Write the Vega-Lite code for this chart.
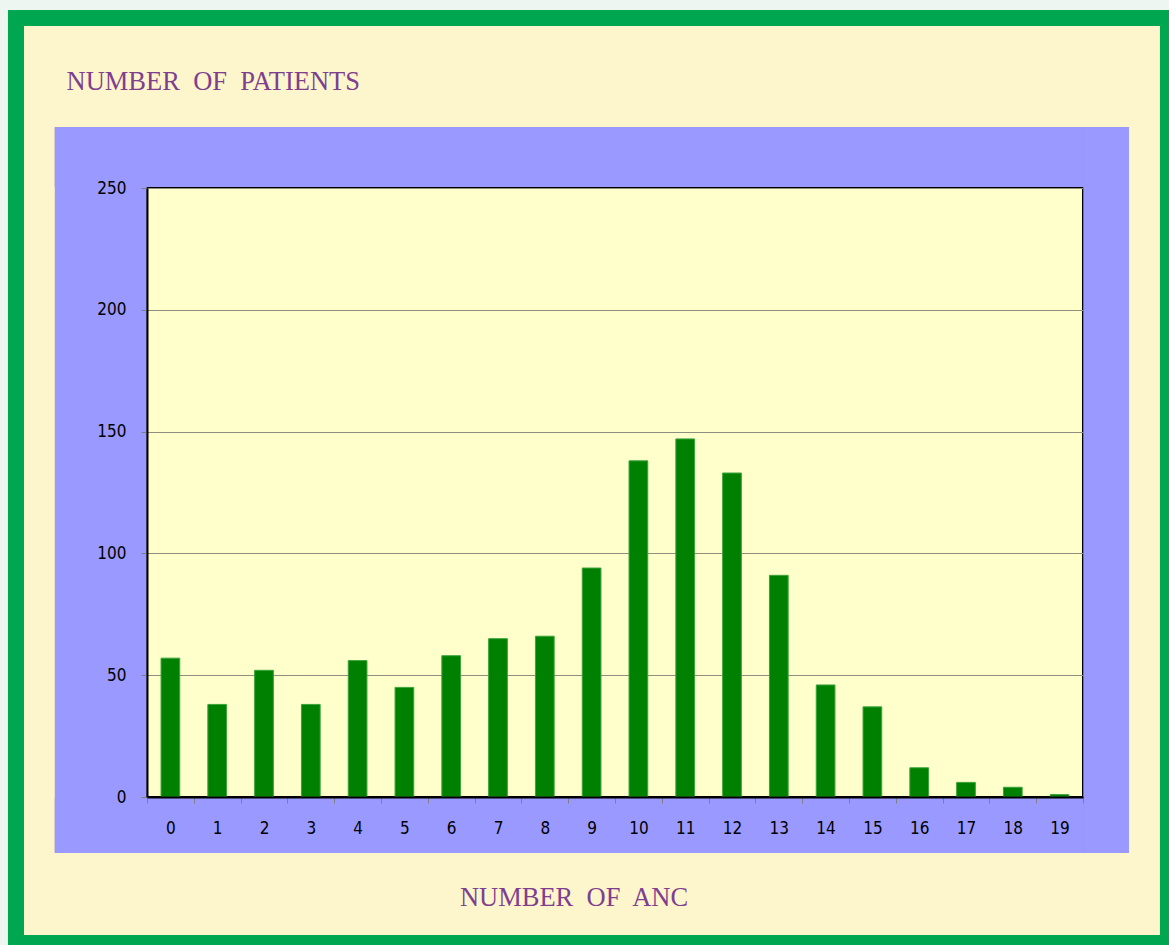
{
  "$schema": "https://vega.github.io/schema/vega-lite/v6.json",
  "width": 936,
  "height": 609,
  "autosize": {"type": "none"},
  "padding": {"left": 147, "top": 188, "right": 86, "bottom": 148},
  "background": "#fdf5cc",
  "config": {
    "view": {"fill": "#ffffcc", "stroke": "#000000", "strokeWidth": 2},
    "axis": {"labelFont": "DejaVu Sans Condensed", "labelFontSize": 17, "labelColor": "#000000"}
  },
  "data": {
    "values": [
      {"anc": 0, "patients": 57},
      {"anc": 1, "patients": 38},
      {"anc": 2, "patients": 52},
      {"anc": 3, "patients": 38},
      {"anc": 4, "patients": 56},
      {"anc": 5, "patients": 45},
      {"anc": 6, "patients": 58},
      {"anc": 7, "patients": 65},
      {"anc": 8, "patients": 66},
      {"anc": 9, "patients": 94},
      {"anc": 10, "patients": 138},
      {"anc": 11, "patients": 147},
      {"anc": 12, "patients": 133},
      {"anc": 13, "patients": 91},
      {"anc": 14, "patients": 46},
      {"anc": 15, "patients": 37},
      {"anc": 16, "patients": 12},
      {"anc": 17, "patients": 6},
      {"anc": 18, "patients": 4},
      {"anc": 19, "patients": 1}
    ]
  },
  "layer": [
    {
      "layer": [
        {
          "mark": {"type": "rect", "fill": null, "stroke": "#eef6f1", "strokeWidth": 20},
          "encoding": {
            "x": {"datum": -0.1592, "type": "quantitative", "scale": {"domain": [0, 1], "nice": false, "zero": false}, "axis": null},
            "x2": {"datum": 1.125},
            "y": {"datum": 327.18, "type": "quantitative", "scale": {"domain": [0, 250], "nice": false}, "axis": {"grid": true, "gridColor": "#8f8f80", "gridWidth": 1, "labels": false, "ticks": false, "domain": false, "title": null, "orient": "left", "zindex": 0, "tickCount": 5}},
            "y2": {"datum": -83.3}
          }
        },
        {
          "mark": {"type": "rect", "fill": null, "stroke": "#00a650", "strokeWidth": 16},
          "encoding": {
            "x": {"datum": -0.13996, "type": "quantitative"},
            "x2": {"datum": 1.09081},
            "y": {"datum": 319.79, "type": "quantitative"},
            "y2": {"datum": -59.93}
          }
        },
        {
          "mark": {"type": "rect", "fill": "#9999ff"},
          "encoding": {
            "x": {"datum": -0.0983, "type": "quantitative"},
            "x2": {"datum": 1.0491},
            "y": {"datum": 275.04, "type": "quantitative"},
            "y2": {"datum": 250.4}
          }
        },
        {
          "mark": {"type": "rect", "fill": "#9999ff"},
          "encoding": {
            "x": {"datum": -0.0983, "type": "quantitative"},
            "x2": {"datum": 1.0491},
            "y": {"datum": -0.4, "type": "quantitative"},
            "y2": {"datum": -22.99}
          }
        },
        {
          "mark": {"type": "rect", "fill": "#9999ff"},
          "encoding": {
            "x": {"datum": -0.0983, "type": "quantitative"},
            "x2": {"datum": -0.001},
            "y": {"datum": -22.99, "type": "quantitative"},
            "y2": {"datum": 275.04}
          }
        },
        {
          "mark": {"type": "rect", "fill": "#9999ff"},
          "encoding": {
            "x": {"datum": 1.001, "type": "quantitative"},
            "x2": {"datum": 1.0491},
            "y": {"datum": -22.99, "type": "quantitative"},
            "y2": {"datum": 275.04}
          }
        }
      ]
    },
    {
      "mark": {"type": "bar", "fill": "#008000", "stroke": "#3da33d", "strokeWidth": 1, "width": {"band": 0.4}},
      "encoding": {
        "x": {
          "field": "anc",
          "type": "ordinal",
          "scale": {"paddingInner": 0, "paddingOuter": 0},
          "axis": {
            "orient": "bottom",
            "zindex": 1,
            "labelAngle": 0,
            "labelPadding": 17,
            "tickBand": "extent",
            "tickColor": "#808080",
            "tickSize": 6,
            "domainColor": "#000000",
            "domainWidth": 2,
            "title": "NUMBER\u00a0 OF\u00a0 ANC",
            "titleFont": "Liberation Serif",
            "titleFontSize": 26.5,
            "titleFontWeight": "normal",
            "titleColor": "#7f3f8f",
            "titleX": 426.5,
            "titleY": 108,
            "titleAlign": "center",
            "titleBaseline": "alphabetic"
          }
        },
        "y": {
          "field": "patients",
          "type": "quantitative",
          "scale": {"domain": [0, 250], "nice": false},
          "axis": {
            "orient": "left",
            "zindex": 1,
            "grid": false,
            "tickCount": 5,
            "tickColor": "#808080",
            "tickSize": 6,
            "labelPadding": 15,
            "domainColor": "#000000",
            "domainWidth": 2,
            "title": "NUMBER\u00a0 OF\u00a0 PATIENTS",
            "titleFont": "Liberation Serif",
            "titleFontSize": 26.5,
            "titleFontWeight": "normal",
            "titleColor": "#7f3f8f",
            "titleAngle": 0,
            "titleX": -81,
            "titleY": -99,
            "titleAlign": "left",
            "titleBaseline": "alphabetic"
          }
        }
      }
    }
  ],
  "resolve": {
    "scale": {"x": "independent", "y": "shared"},
    "axis": {"x": "independent", "y": "independent"}
  }
}
